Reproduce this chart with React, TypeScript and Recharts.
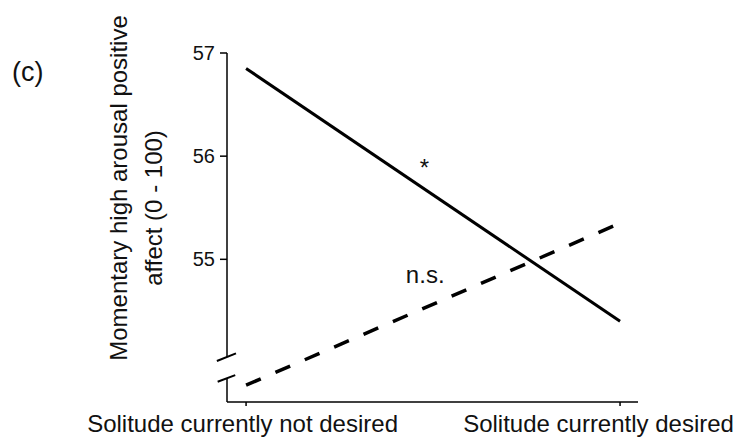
import { LineChart, Line, XAxis, YAxis, ReferenceLine, ReferenceDot } from "recharts";

const categories = ["Solitude currently not desired", "Solitude currently desired"];
const categoryPos = [0, 1];
const solidSeries = [56.85, 54.4];
const dashedSeries = [53.78, 55.35];
const yTicks = [55, 56, 57];

const data = categoryPos.map((x, i) => ({
  x,
  solid: solidSeries[i],
  dashed: dashedSeries[i],
}));

const font = "'Liberation Sans', Arial, sans-serif";
const ink = "#111";

// label nudges so the right label stays inside the picture
const xLabelShift = [-3.5, -21.5];

function XTick(props: any) {
  const { x, y, payload } = props;
  const i = payload.value;
  return (
    <text
      x={x + xLabelShift[i]}
      y={y}
      dy="0.71em"
      textAnchor="middle"
      fontSize={24}
      fontFamily={font}
      fill={ink}
    >
      {categories[i]}
    </text>
  );
}

const axisStroke = { stroke: "#000", strokeWidth: 1.5 };

export default function App() {
  return (
    <div
      style={{
        position: "absolute",
        left: 0,
        top: 0,
        width: 737,
        height: 442,
        background: "#fff",
        fontFamily: font,
      }}
    >
      <LineChart
        width={737}
        height={442}
        data={data}
        margin={{ top: 53, right: 99, bottom: 0, left: 167 }}
      >
        <XAxis
          type="number"
          dataKey="x"
          domain={[-0.051, 1.048]}
          ticks={categoryPos}
          allowDataOverflow
          height={40}
          tickSize={4}
          tickMargin={9}
          axisLine={axisStroke}
          tickLine={axisStroke}
          tick={<XTick />}
        />
        <YAxis
          type="number"
          domain={[53.617, 57]}
          ticks={yTicks}
          allowDataOverflow
          width={60}
          tickSize={7}
          tickMargin={5}
          axisLine={false}
          tickLine={axisStroke}
          tick={{ fontSize: 20, fill: ink, fontFamily: font }}
        />
        {/* broken y axis */}
        <ReferenceLine
          segment={[{ x: -0.051, y: 57 }, { x: -0.051, y: 54.053 }]}
          ifOverflow="visible"
          {...axisStroke}
        />
        <ReferenceLine
          segment={[{ x: -0.051, y: 53.849 }, { x: -0.051, y: 53.617 }]}
          ifOverflow="visible"
          {...axisStroke}
        />
        <ReferenceLine
          segment={[{ x: -0.078, y: 54.014 }, { x: -0.027, y: 54.089 }]}
          ifOverflow="visible"
          stroke="#000"
          strokeWidth={2}
        />
        <ReferenceLine
          segment={[{ x: -0.076, y: 53.813 }, { x: -0.029, y: 53.878 }]}
          ifOverflow="visible"
          stroke="#000"
          strokeWidth={2}
        />
        <Line
          type="linear"
          dataKey="solid"
          stroke="#000"
          strokeWidth={3}
          dot={false}
          activeDot={false}
          isAnimationActive={false}
        />
        <Line
          type="linear"
          dataKey="dashed"
          stroke="#000"
          strokeWidth={3.5}
          strokeDasharray="16 16"
          dot={false}
          activeDot={false}
          isAnimationActive={false}
        />
        <ReferenceDot
          x={0.477}
          y={55.895}
          r={0}
          fill="none"
          stroke="none"
          label={{ value: "*", position: "center", fontSize: 24, fill: ink, fontFamily: font }}
        />
        <ReferenceDot
          x={0.479}
          y={54.85}
          r={0}
          fill="none"
          stroke="none"
          label={{ value: "n.s.", position: "center", fontSize: 24, fill: ink, fontFamily: font }}
        />
      </LineChart>
      <svg
        width={737}
        height={442}
        style={{ position: "absolute", left: 0, top: 0, pointerEvents: "none" }}
      >
        <text x={12} y={81} fontSize={27} fontFamily={font} fill={ink}>
          (c)
        </text>
        <text
          transform="translate(127,188) rotate(-90)"
          textAnchor="middle"
          fontSize={24}
          fontFamily={font}
          fill={ink}
        >
          Momentary high arousal positive
        </text>
        <text
          transform="translate(162,208) rotate(-90)"
          textAnchor="middle"
          fontSize={24}
          fontFamily={font}
          fill={ink}
        >
          affect (0 - 100)
        </text>
      </svg>
    </div>
  );
}
